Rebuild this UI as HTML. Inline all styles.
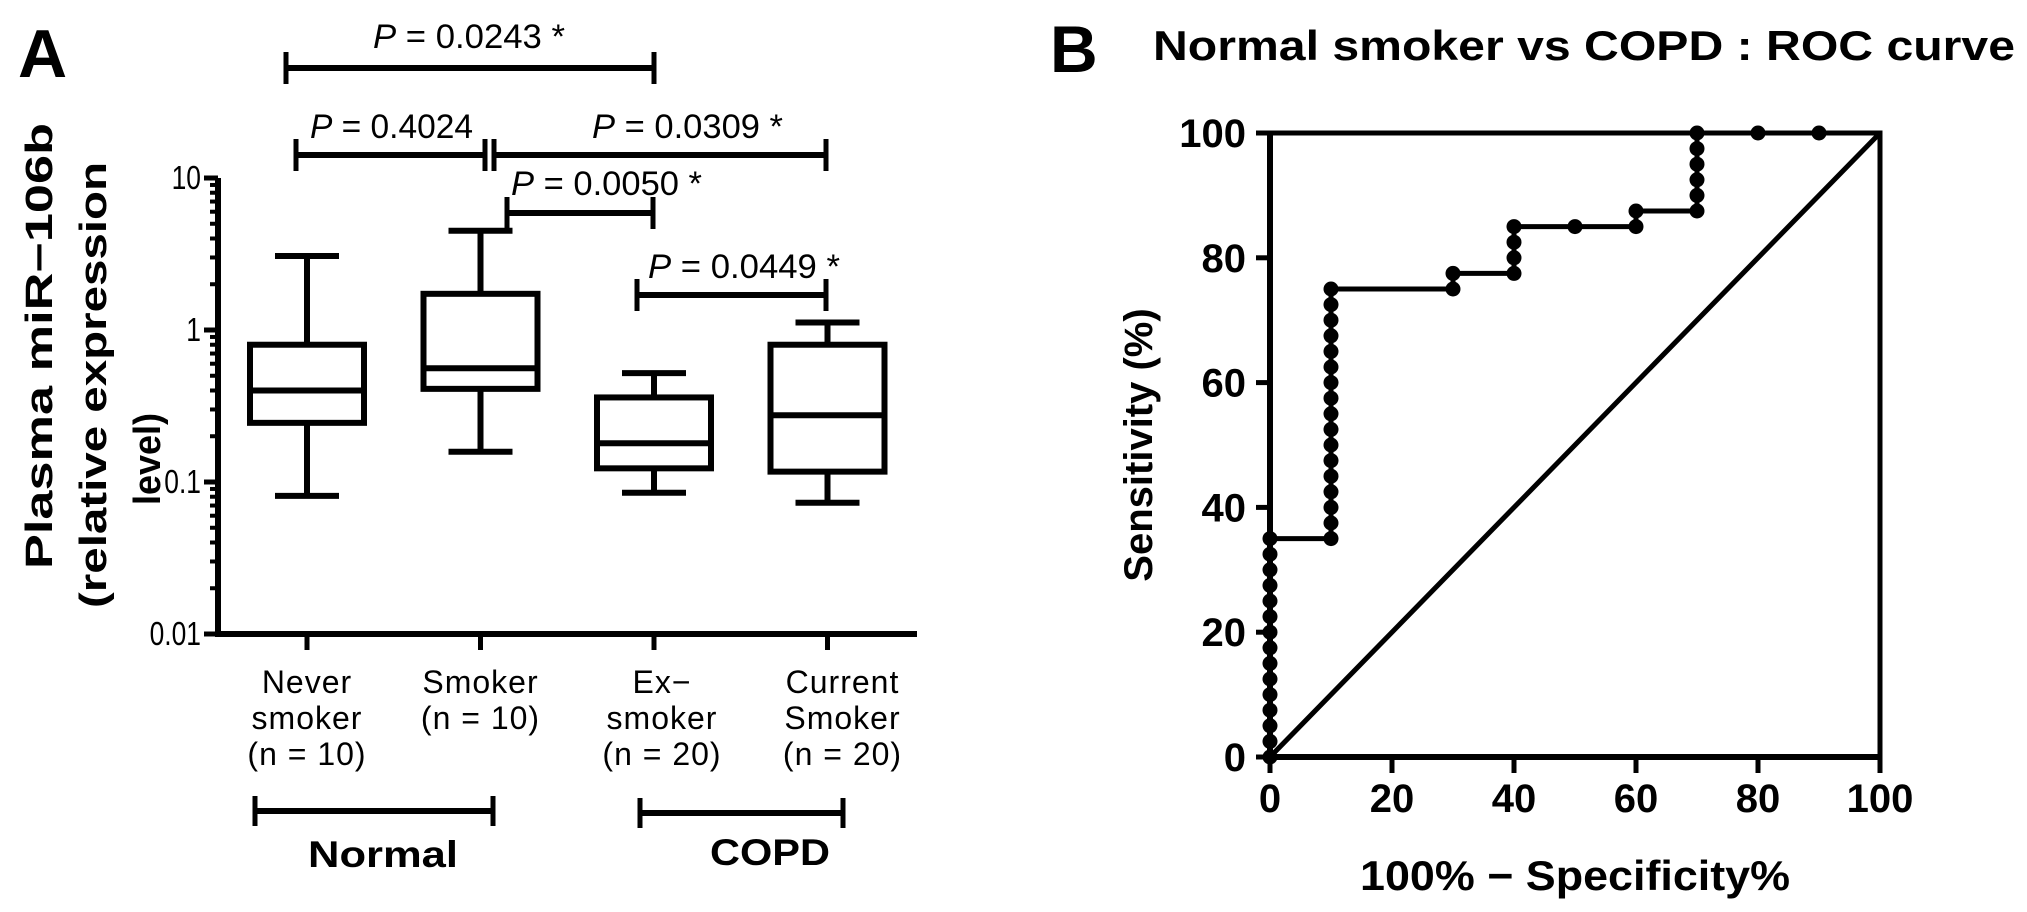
<!DOCTYPE html>
<html><head><meta charset="utf-8"><style>
html,body{margin:0;padding:0;background:#fff;}
svg{display:block;font-family:"Liberation Sans",Arial,sans-serif;}
</style></head><body>
<svg id="fig" width="2027" height="912" viewBox="0 0 2027 912" xmlns="http://www.w3.org/2000/svg">
<g id="panelA"></g>
<g id="panelB"></g>
</svg>
<script>
// ---- Panel A data ----
const groups = ["Never smoker","Smoker","Ex-smoker","Current Smoker"];
const whiskerMax = [3.07, 4.5, 0.52, 1.12];
const q3 = [0.80, 1.73, 0.36, 0.80];
const median = [0.40, 0.56, 0.18, 0.275];
const q1 = [0.245, 0.41, 0.123, 0.117];
const whiskerMin = [0.081, 0.158, 0.085, 0.073];
const yTickValsA = [10, 1, 0.1, 0.01];
const yTickLabelsA = ["10", "1", "0.1", "0.01"];
// ---- Panel B data ----
const rocFpr = [0,0,0,0,0,0,0,0,0,0,0,0,0,0,0,
  10,10,10,10,10,10,10,10,10,10,10,10,10,10,10,10,10,
  30,30, 40,40,40,40, 50, 60,60, 70,70,70,70,70,70, 80, 90];
const rocTpr = [0,2.5,5,7.5,10,12.5,15,17.5,20,22.5,25,27.5,30,32.5,35,
  35,37.5,40,42.5,45,47.5,50,52.5,55,57.5,60,62.5,65,67.5,70,72.5,75,
  75,77.5, 77.5,80,82.5,85, 85, 85,87.5, 87.5,90,92.5,95,97.5,100, 100, 100];
const xTicksB = [0,20,40,60,80,100];
const yTicksB = [0,20,40,60,80,100];

const NS="http://www.w3.org/2000/svg";
function mk(parent, tag, attrs, text){
  const e=document.createElementNS(NS,tag);
  for(const k in attrs) e.setAttribute(k, attrs[k]);
  if(text!==undefined) e.textContent=text;
  parent.appendChild(e); return e;
}
const A=document.getElementById('panelA');
const B=document.getElementById('panelB');

const yA = v => 330 - Math.log10(v)*152;
const xA = i => 307 + i*173.5;
const axisX = 218;

let t;
t=mk(A,'text',{x:18,y:77,'font-size':68,'font-weight':'bold'},'A');
 

let ax=mk(A,'path',{d:`M${axisX} ${yA(10)} V${yA(0.01)} H917`,stroke:'#000','stroke-width':6,fill:'none'});
 
for(let d=-2; d<1; d++){
  for(let m=1;m<=9;m++){
    const v=m*Math.pow(10,d);
    const y=yA(v);
    const len = m===1?14:8;
    const tk=mk(A,'line',{x1:axisX-len,x2:axisX,y1:y,y2:y,stroke:'#000','stroke-width':m===1?5:4});
     
  }
}
mk(A,'line',{x1:axisX-14,x2:axisX,y1:yA(10),y2:yA(10),stroke:'#000','stroke-width':5});
yTickValsA.forEach((v,i)=>{
  const l=mk(A,'text',{x:201,y:yA(v)+11,'font-size':33,'text-anchor':'end',transform:`scale(0.8,1)`,'transform-origin':`201 ${yA(v)}`},yTickLabelsA[i]);
   
});
// y title
const ytLines=[{s:'Plasma miR−106b',x:52,c:346,w:446},{s:'(relative expression',x:106,c:385,w:446},{s:'level)',x:160,c:459,w:92}];
ytLines.forEach(o=>{
  const l=mk(A,'text',{transform:`translate(${o.x},${o.c}) rotate(-90)`,'font-size':38,'font-weight':'bold','text-anchor':'middle',textLength:o.w,lengthAdjust:'spacingAndGlyphs'},o.s);
   
});

groups.forEach((g,i)=>{
  const cx=xA(i), hw=57, cap=32;
  const gg=mk(A,'g',{stroke:'#000','stroke-width':6,fill:'none'});
   
  mk(gg,'rect',{x:cx-hw,y:yA(q3[i]),width:2*hw,height:yA(q1[i])-yA(q3[i]),fill:'#fff'});
  mk(gg,'line',{x1:cx-hw,x2:cx+hw,y1:yA(median[i]),y2:yA(median[i])});
  mk(gg,'line',{x1:cx,x2:cx,y1:yA(whiskerMax[i]),y2:yA(q3[i])});
  mk(gg,'line',{x1:cx,x2:cx,y1:yA(q1[i]),y2:yA(whiskerMin[i])});
  mk(gg,'line',{x1:cx-cap,x2:cx+cap,y1:yA(whiskerMax[i]),y2:yA(whiskerMax[i])});
  mk(gg,'line',{x1:cx-cap,x2:cx+cap,y1:yA(whiskerMin[i]),y2:yA(whiskerMin[i])});
  const tk=mk(A,'line',{x1:cx,x2:cx,y1:yA(0.01),y2:yA(0.01)+16,stroke:'#000','stroke-width':5});
   
});
const catLines=[["Never","smoker","(n = 10)"],["Smoker","(n = 10)"],["Ex−","smoker","(n  = 20)"],["Current","Smoker","(n = 20)"]];
catLines.forEach((ls,i)=>{
  ls.forEach((s,j)=>{
    const tx=mk(A,'text',{x:xA(i)+(i==3?15:i==2?8:0),y:693+j*36,'font-size':32,'text-anchor':'middle','letter-spacing':1},s);
     
  });
});
function hbr(x1,x2,y,name,th){
  const g=mk(A,'g',{stroke:'#000','stroke-width':6,fill:'none'});
   
  mk(g,'line',{x1:x1,x2:x2,y1:y,y2:y});
  mk(g,'line',{x1:x1,x2:x1,y1:y-th,y2:y+th,'stroke-width':5});
  mk(g,'line',{x1:x2,x2:x2,y1:y-th,y2:y+th,'stroke-width':5});
}
hbr(255,493,811,'normal-group-bracket',15);
hbr(640,843,813,'copd-group-bracket',15);
t=mk(A,'text',{x:383,y:867,'font-size':37,'font-weight':'bold','text-anchor':'middle',textLength:150,lengthAdjust:'spacingAndGlyphs'},'Normal');
 
t=mk(A,'text',{x:770,y:865,'font-size':37,'font-weight':'bold','text-anchor':'middle',textLength:120,lengthAdjust:'spacingAndGlyphs'},'COPD');
 
const sig=[
  {x1:286,x2:654,y:68,tx:373,ty:48,w:192,lab:'0.0243 *'},
  {x1:296,x2:485,y:155,tx:310,ty:138,w:163,lab:'0.4024'},
  {x1:494,x2:826,y:155,tx:592,ty:138,w:191,lab:'0.0309 *'},
  {x1:507,x2:653,y:213,tx:511,ty:195,w:191,lab:'0.0050 *'},
  {x1:637,x2:826,y:295,tx:648,ty:278,w:192,lab:'0.0449 *'}
];
sig.forEach((s,i)=>{
  hbr(s.x1,s.x2,s.y,'significance-bracket',16);
  const tx=mk(A,'text',{x:s.tx,y:s.ty,'font-size':34,textLength:s.w,lengthAdjust:'spacingAndGlyphs'});
   
  mk(tx,'tspan',{'font-style':'italic'},'P');
  mk(tx,'tspan',{},' = '+s.lab);
});

// ---- Panel B ----
const xB = v => 1270 + v*6.1;
const yB = v => 757 - v*6.24;
t=mk(B,'text',{x:1050,y:72,'font-size':66,'font-weight':'bold'},'B');
 
t=mk(B,'text',{x:1153,y:60,'font-size':42,'font-weight':'bold',textLength:862,lengthAdjust:'spacingAndGlyphs'},'Normal smoker vs COPD : ROC curve');
 
ax=mk(B,'path',{d:`M${xB(0)} ${yB(100)} V${yB(0)} H${xB(100)}`,stroke:'#000','stroke-width':6,fill:'none'});
 
const fr=mk(B,'path',{d:`M${xB(0)} ${yB(100)} H${xB(100)} V${yB(0)}`,stroke:'#000','stroke-width':5,fill:'none'});
 
const dg=mk(B,'line',{x1:xB(0),y1:yB(0),x2:xB(100),y2:yB(100),stroke:'#000','stroke-width':5});
 
xTicksB.forEach(v=>{
  const tk=mk(B,'line',{x1:xB(v),x2:xB(v),y1:yB(0),y2:yB(0)+16,stroke:'#000','stroke-width':5});
   
  const l=mk(B,'text',{x:xB(v),y:812,'font-size':40,'font-weight':'bold','text-anchor':'middle'},String(v));
   
});
yTicksB.forEach(v=>{
  const tk=mk(B,'line',{x1:xB(0)-14,x2:xB(0),y1:yB(v),y2:yB(v),stroke:'#000','stroke-width':5});
   
  const l=mk(B,'text',{x:1246,y:yB(v)+14,'font-size':40,'font-weight':'bold','text-anchor':'end'},String(v));
   
});
t=mk(B,'text',{x:1575,y:890,'font-size':42,'font-weight':'bold','text-anchor':'middle',textLength:430,lengthAdjust:'spacingAndGlyphs'},'100% − Specificity%');
 
t=mk(B,'text',{transform:'translate(1152,445) rotate(-90)','font-size':40,'font-weight':'bold','text-anchor':'middle'},'Sensitivity (%)');
 
let d=`M${xB(rocFpr[0])} ${yB(rocTpr[0])}`;
for(let i=1;i<rocFpr.length;i++){ d+=` L${xB(rocFpr[i])} ${yB(rocTpr[i])}`; }
d+=` L${xB(100)} ${yB(100)}`;
const rl=mk(B,'path',{d:d,stroke:'#000','stroke-width':5,fill:'none'});
 
for(let i=0;i<rocFpr.length;i++){
  const c=mk(B,'circle',{cx:xB(rocFpr[i]),cy:yB(rocTpr[i]),r:7.5,fill:'#000'});
   
}
</script>
</body></html>
